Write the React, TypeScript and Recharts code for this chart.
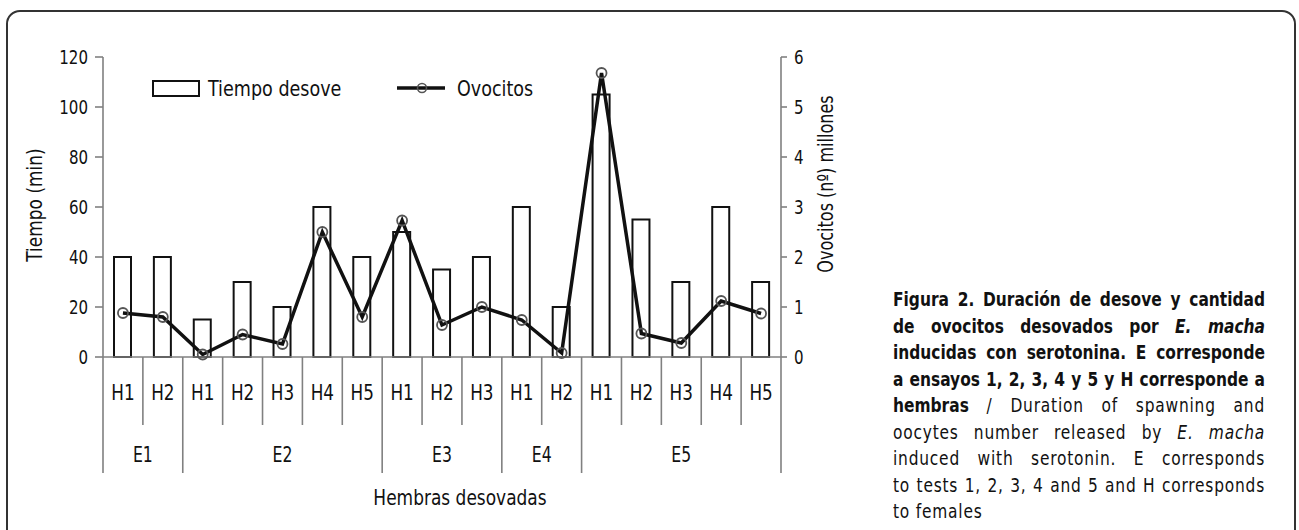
import React from "react";
import {
  ComposedChart,
  Bar,
  Line,
  XAxis,
  YAxis,
  Legend,
} from "recharts";

// valores
const hembras = ["H1", "H2", "H1", "H2", "H3", "H4", "H5", "H1", "H2", "H3", "H1", "H2", "H1", "H2", "H3", "H4", "H5"];
const ensayos = ["E1", "E1", "E2", "E2", "E2", "E2", "E2", "E3", "E3", "E3", "E4", "E4", "E5", "E5", "E5", "E5", "E5"];
const tiempoDesove = [40, 40, 15, 30, 20, 60, 40, 50, 35, 40, 60, 20, 105, 55, 30, 60, 30];
const ovocitos = [0.88, 0.8, 0.05, 0.45, 0.26, 2.5, 0.8, 2.73, 0.64, 1.0, 0.74, 0.08, 5.68, 0.47, 0.28, 1.12, 0.87];

const tiempoTicks = [0, 20, 40, 60, 80, 100, 120];
const ovocitosTicks = [0, 1, 2, 3, 4, 5, 6];

const data = hembras.map((h, i) => ({
  id: `${ensayos[i]}-${h}`,
  tiempo: tiempoDesove[i],
  ovocitos: ovocitos[i],
}));

const FONT = '"DejaVu Sans Condensed", "DejaVu Sans", sans-serif';
const AXIS_GRAY = "#808080";
const INK = "#111";

// texto estrecho: el original usa una fuente condensada y alta
function NarrowText(props: {
  x: number;
  y: number;
  size: number;
  sx?: number;
  angle?: number;
  anchor?: "start" | "middle" | "end";
  baseline?: string;
  children: React.ReactNode;
}) {
  const { x, y, size, sx = 0.85, angle = 0, anchor = "middle", baseline = "auto", children } = props;
  return (
    <text
      transform={`translate(${x},${y}) rotate(${angle}) scale(${sx},1)`}
      x={0}
      y={0}
      textAnchor={anchor}
      dominantBaseline={baseline}
      fontSize={size}
      fill={INK}
      fontFamily={FONT}
    >
      {children}
    </text>
  );
}

function CategoryTick(props: any) {
  const { x, y, payload } = props;
  const i: number = payload.index ?? props.index;
  const half: number = payload.offset || 678 / 17 / 2;
  const left = x - half;
  const firstOfGroup = i === 0 || ensayos[i] !== ensayos[i - 1];
  const last = i === ensayos.length - 1;
  const groupSize = ensayos.filter((e) => e === ensayos[i]).length;
  return (
    <g>
      <line x1={left} x2={left} y1={y} y2={y + (firstOfGroup ? 116 : 68)} stroke={AXIS_GRAY} strokeWidth={1.6} />
      {last && (
        <line x1={x + half} x2={x + half} y1={y} y2={y + 116} stroke={AXIS_GRAY} strokeWidth={1.6} />
      )}
      <NarrowText x={x} y={y + 43} size={22} sx={0.85}>
        {hembras[i]}
      </NarrowText>
      {firstOfGroup && (
        <NarrowText x={left + groupSize * half} y={y + 105} size={20.5} sx={0.85}>
          {ensayos[i]}
        </NarrowText>
      )}
    </g>
  );
}

function LeftTick(props: any) {
  const { x, y, payload } = props;
  return (
    <NarrowText x={x} y={y} size={19} sx={0.88} anchor="end" baseline="central">
      {payload.value}
    </NarrowText>
  );
}

function RightTick(props: any) {
  const { x, y, payload } = props;
  return (
    <NarrowText x={x} y={y} size={19} sx={0.88} anchor="start" baseline="central">
      {payload.value}
    </NarrowText>
  );
}

function OvocitoDot(props: any) {
  const { cx, cy, index } = props;
  if (cx == null || cy == null) return null;
  return <circle key={`dot-${index}`} cx={cx} cy={cy} r={5} fill="none" stroke="#555" strokeWidth={1.8} />;
}

function renderLegend() {
  return (
    <svg width={860} height={110} style={{ position: "absolute", left: 0, top: 0, overflow: "visible" }}>
      <rect x={153} y={81} width={46} height={15} fill="#fff" stroke={INK} strokeWidth={2} />
      <NarrowText x={208} y={96} size={21} sx={0.93} anchor="start">Tiempo desove</NarrowText>
      <line x1={397} x2={445} y1={88} y2={88} stroke={INK} strokeWidth={3.5} />
      <circle cx={422} cy={88} r={4.5} fill="none" stroke="#555" strokeWidth={1.6} />
      <NarrowText x={457} y={96} size={21} sx={0.93} anchor="start">Ovocitos</NarrowText>
    </svg>
  );
}

function LeftTitle(props: any) {
  const vb = props.viewBox || { y: 57, height: 300 };
  return (
    <NarrowText x={35} y={vb.y + vb.height / 2 - 2} size={21} sx={0.9} angle={-90} baseline="central">
      Tiempo (min)
    </NarrowText>
  );
}

function RightTitle(props: any) {
  const vb = props.viewBox || { y: 57, height: 300 };
  return (
    <NarrowText x={826} y={vb.y + vb.height / 2 - 23} size={21} sx={0.85} angle={-90} baseline="central">
      Ovocitos (nº) millones
    </NarrowText>
  );
}

function BottomTitle(props: any) {
  const vb = props.viewBox || { x: 103, y: 357, width: 678 };
  return (
    <NarrowText x={vb.x + vb.width / 2 + 18} y={vb.y + 148} size={21} sx={0.9}>
      Hembras desovadas
    </NarrowText>
  );
}

const captionLines: { parts: { t: string; b?: boolean; i?: boolean }[]; last?: boolean }[] = [
  { parts: [{ t: "Figura 2. Duración de desove y cantidad", b: true }] },
  { parts: [{ t: "de ovocitos desovados por ", b: true }, { t: "E. macha", b: true, i: true }] },
  { parts: [{ t: "inducidas con serotonina. E corresponde", b: true }] },
  { parts: [{ t: "a ensayos 1, 2, 3, 4 y 5 y H corresponde a", b: true }] },
  { parts: [{ t: "hembras", b: true }, { t: " / Duration of spawning and" }] },
  { parts: [{ t: "oocytes number released by " }, { t: "E. macha", i: true }] },
  { parts: [{ t: "induced with serotonin. E corresponds" }] },
  { parts: [{ t: "to tests 1, 2, 3, 4 and 5 and H corresponds" }] },
  { parts: [{ t: "to females" }], last: true },
];

const CAPTION_SCALE = 0.88;

export default function App() {
  return (
    <div style={{ position: "fixed", left: 0, top: 0, width: 1299, height: 530, overflow: "hidden", background: "#fff" }}>
      <div
        style={{
          position: "absolute",
          left: 6,
          top: 10,
          width: 1290,
          height: 560,
          border: "2px solid #333",
          borderRadius: 14,
          boxSizing: "border-box",
        }}
      />
      <div style={{ position: "absolute", left: 0, top: 0 }}>
        <ComposedChart
          width={860}
          height={530}
          data={data}
          margin={{ top: 57, right: 39, bottom: 53, left: 43 }}
          barSize={17}
        >
          <XAxis
            dataKey="id"
            xAxisId="cat"
            height={120}
            interval={0}
            tickSize={0}
            tickMargin={0}
            tickLine={false}
            axisLine={{ stroke: AXIS_GRAY, strokeWidth: 1.6 }}
            tick={<CategoryTick />}
            label={<BottomTitle />}
          />
          <YAxis
            yAxisId="left"
            width={60}
            domain={[0, 120]}
            ticks={tiempoTicks}
            interval={0}
            tickSize={8}
            tickMargin={7}
            axisLine={{ stroke: AXIS_GRAY, strokeWidth: 1.6 }}
            tickLine={{ stroke: AXIS_GRAY, strokeWidth: 1.6 }}
            tick={<LeftTick />}
            label={<LeftTitle />}
          />
          <YAxis
            yAxisId="right"
            orientation="right"
            width={40}
            domain={[0, 6]}
            ticks={ovocitosTicks}
            interval={0}
            tickSize={6}
            tickMargin={7}
            axisLine={{ stroke: AXIS_GRAY, strokeWidth: 1.6 }}
            tickLine={{ stroke: AXIS_GRAY, strokeWidth: 1.6 }}
            tick={<RightTick />}
            label={<RightTitle />}
          />
          <Legend
            layout="horizontal"
            verticalAlign="middle"
            align="center"
            content={renderLegend}
            wrapperStyle={{ left: 0, top: 0, width: 860, height: 1 }}
          />
          <Bar
            xAxisId="cat"
            yAxisId="left"
            dataKey="tiempo"
            name="Tiempo desove"
            fill="#fff"
            stroke={INK}
            strokeWidth={2}
            isAnimationActive={false}
          />
          <Line
            xAxisId="cat"
            yAxisId="right"
            type="linear"
            dataKey="ovocitos"
            name="Ovocitos"
            stroke={INK}
            strokeWidth={3.5}
            dot={<OvocitoDot />}
            activeDot={false}
            isAnimationActive={false}
          />
        </ComposedChart>
      </div>
      <div
        style={{
          position: "absolute",
          left: 893,
          top: 287,
          width: 372 / CAPTION_SCALE,
          transform: `scaleX(${CAPTION_SCALE})`,
          transformOrigin: "0 0",
          fontFamily: FONT,
          fontSize: 19.5,
          lineHeight: "26.5px",
          color: INK,
        }}
      >
        {captionLines.map((line, li) => (
          <div
            key={li}
            style={{
              whiteSpace: "nowrap",
              textAlign: line.last ? "left" : "justify",
              textAlignLast: line.last ? "left" : "justify",
            }}
          >
            {line.parts.map((p, pi) => (
              <span
                key={pi}
                style={{
                  fontWeight: p.b ? "bold" : "normal",
                  fontStyle: p.i ? "italic" : "normal",
                  letterSpacing: p.b ? 0 : "0.9px",
                }}
              >
                {p.t}
              </span>
            ))}
          </div>
        ))}
      </div>
    </div>
  );
}
